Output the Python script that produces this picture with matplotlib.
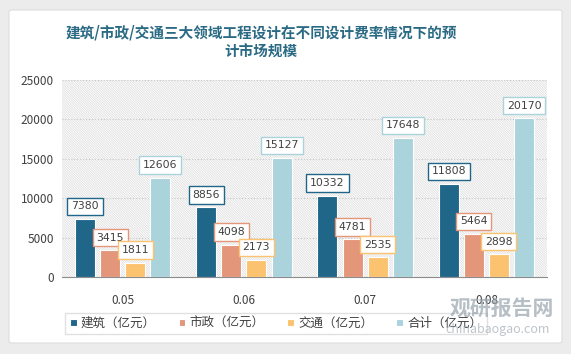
import matplotlib.pyplot as plt
from matplotlib.patches import FancyBboxPatch, Rectangle
import numpy as np

plt.rcParams['font.family'] = ['Noto Sans CJK SC', 'DejaVu Sans']
plt.rcParams['hatch.color'] = '#d9d9d9'
plt.rcParams['hatch.linewidth'] = 0.5

rates = ['0.05', '0.06', '0.07', '0.08']
jianzhu = [7380, 8856, 10332, 11808]
shizheng = [3415, 4098, 4781, 5464]
jiaotong = [1811, 2173, 2535, 2898]
heji = [12606, 15127, 17648, 20170]
series_names = ['建筑（亿元）', '市政（亿元）', '交通（亿元）', '合计（亿元）']
colors = ['#1f6689', '#e4967a', '#fbc370', '#aad3dc']

fig = plt.figure(figsize=(5.71, 3.54), dpi=100)
fig.patch.set_facecolor('#ececec')
card = FancyBboxPatch((9 / 571, 11 / 354), 553 / 571, 333 / 354,
                      boxstyle='round,pad=0,rounding_size=0.005',
                      transform=fig.transFigure, facecolor='white',
                      edgecolor='#dddddd', linewidth=0.8, zorder=-10)
fig.patches.append(card)

ax = fig.add_axes([62 / 571, 1 - 277 / 354, 485 / 571, 197 / 354])
ax.set_zorder(1)
ax.set_facecolor('white')
# diagonal hatched background of the plot area
ax.add_patch(Rectangle((0, 0), 1, 1, transform=ax.transAxes, facecolor='white',
                       edgecolor='#d9d9d9', linewidth=0, hatch='\\' * 14, zorder=0))

x = np.arange(len(rates))
width = 0.165
step = 0.207
all_series = [jianzhu, shizheng, jiaotong, heji]
for i, (vals, col) in enumerate(zip(all_series, colors)):
    pos = x + (i - 1.5) * step
    bars = ax.bar(pos, vals, width, color=col, edgecolor='white', linewidth=0.8,
                  label=series_names[i], zorder=3)
    for b, v in zip(bars, vals):
        ax.annotate(str(v), (b.get_x() + b.get_width() / 2, v),
                    xytext=(0, 9), textcoords='offset points',
                    ha='center', va='center', fontsize=7.8, color='#404040',
                    family=['DejaVu Sans'], zorder=5,
                    bbox=dict(boxstyle='square,pad=0.35', facecolor='white',
                              edgecolor=col, linewidth=1.0))

ax.set_xlim(-0.5, 3.5)
ax.set_ylim(0, 25000)
ax.set_yticks(range(0, 25001, 5000))
ax.set_xticks(x)
ax.set_xticklabels(rates)
ax.grid(axis='y', linestyle=':', color='#c8c8c8', linewidth=0.8, zorder=1)
for s in ['top', 'right', 'left']:
    ax.spines[s].set_visible(False)
ax.spines['bottom'].set_color('#8c8c8c')
ax.tick_params(length=0, labelsize=8.5, colors='#404040')
ax.tick_params(axis='x', pad=12)
ax.tick_params(axis='y', pad=6)

fig.text(261 / 571, 1 - 42 / 354, '建筑/市政/交通三大领域工程设计在不同设计费率情况下的预\n计市场规模',
         ha='center', va='center', fontsize=10.5, fontweight='bold',
         color='#2a6a84', linespacing=1.3)

leg = fig.legend(*ax.get_legend_handles_labels(), loc='center',
                 bbox_to_anchor=(276 / 571, 1 - 323.5 / 354), ncol=4,
                 fontsize=9, frameon=True, fancybox=False, edgecolor='#d9d9d9',
                 handlelength=0.55, handleheight=0.55, handletextpad=0.35,
                 columnspacing=1.8, borderpad=0.35, borderaxespad=0)
leg.set_zorder(2)
for t in leg.get_texts():
    t.set_color('#404040')

# watermark
fig.text(502 / 571, 1 - 308 / 354, '观研报告网', ha='center', va='center',
         fontsize=15, fontweight='bold', color='#98a4ad', alpha=0.7, zorder=3)
fig.text(498 / 571, 1 - 329 / 354, 'chinabaogao.com', ha='center', va='center',
         fontsize=9, color='#a9b1b8', alpha=0.75, zorder=3)

fig.savefig('out.png', dpi=100)
